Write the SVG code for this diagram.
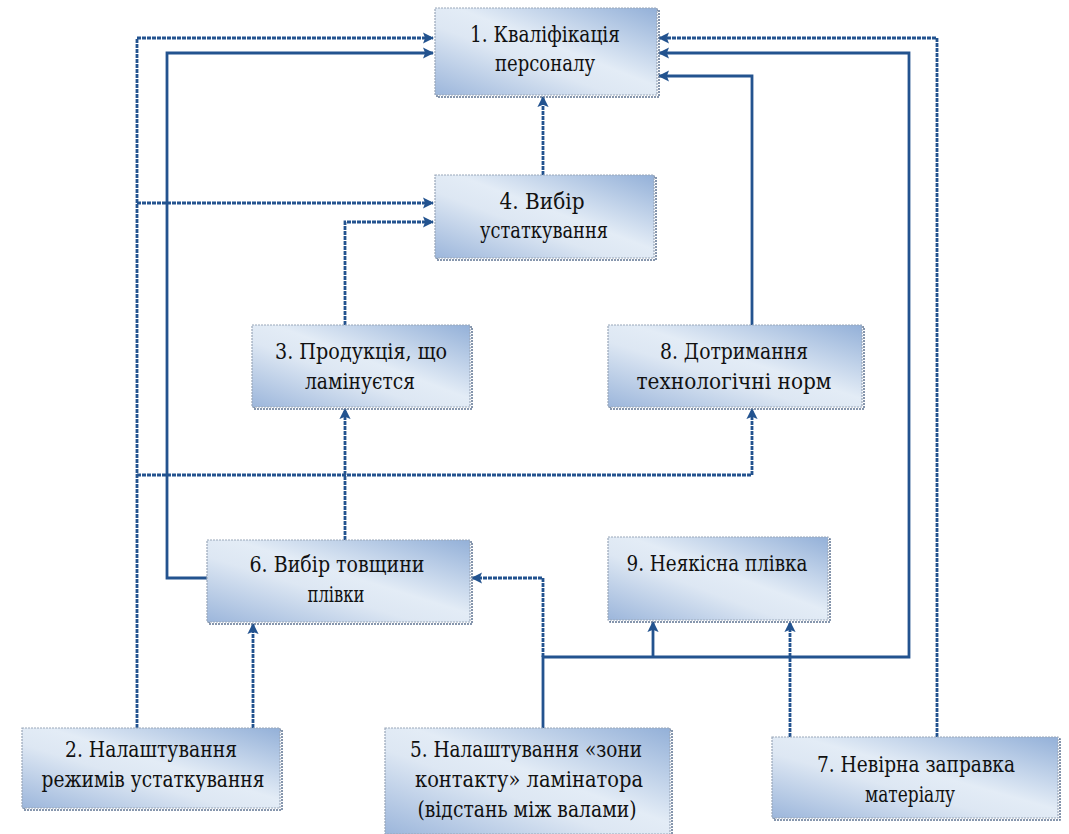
<svg xmlns="http://www.w3.org/2000/svg" width="1069" height="834" viewBox="0 0 1069 834">
  <defs>
    <linearGradient id="boxFill" x1="1" y1="0" x2="0" y2="1">
      <stop offset="0" stop-color="#93b0d8"/>
      <stop offset="0.45" stop-color="#e3ecf6"/>
      <stop offset="0.6" stop-color="#dde7f3"/>
      <stop offset="1" stop-color="#9cb6db"/>
    </linearGradient>
    <marker id="arrow" viewBox="0 0 10 10" refX="9" refY="5" markerWidth="4" markerHeight="4" orient="auto" markerUnits="strokeWidth">
      <path d="M0,0 L10,5 L0,10 L2,5 Z" fill="#23538f"/>
    </marker>
  </defs>
  <style>
    .box { fill: url(#boxFill); stroke: #9aa7ba; stroke-width: 1.2; stroke-dasharray: 2 1; }
    .shadow { fill: none; stroke: #5f7493; stroke-width: 1.5; stroke-dasharray: 2 1; }
    .label { font-size: 22px; fill: #111; text-anchor: middle; }
    .wire { fill: none; stroke: #23538f; stroke-width: 2.8; stroke-linejoin: miter; }
    .dot { stroke-dasharray: 4 1; }
    .tip { marker-end: url(#arrow); }
  </style>
  <rect width="1069" height="834" fill="#ffffff"/>

  <!-- connectors -->
  <g id="connectors">
    <!-- 2 → 1, 4, 8 via left trunk -->
    <path class="wire dot tip" d="M137,728 V38 H433"/>
    <path class="wire dot tip" d="M137,203 H433"/>
    <path class="wire dot tip" d="M137,475 H752 V409"/>
    <!-- 6 → 1 -->
    <path class="wire tip" d="M207,578 H167 V53 H433"/>
    <!-- 3 → 4 -->
    <path class="wire dot tip" d="M345,325 V222 H433"/>
    <!-- 4 → 1 -->
    <path class="wire dot tip" d="M543,175 V97"/>
    <!-- 6 → 3 -->
    <path class="wire dot tip" d="M345,540 V409"/>
    <!-- 2 → 6 -->
    <path class="wire dot tip" d="M253,728 V624"/>
    <!-- 8 → 1 -->
    <path class="wire tip" d="M752,325 V76 H659"/>
    <!-- 7 → 1 -->
    <path class="wire dot tip" d="M937,737 V38 H659"/>
    <!-- 5 → 1, 6, 9 -->
    <path class="wire tip" d="M543,728 V657 H909 V53 H659"/>
    <path class="wire dot tip" d="M543,657 V578 H472"/>
    <path class="wire tip" d="M653,657 V622"/>
    <!-- 7 → 9 -->
    <path class="wire dot tip" d="M790,737 V622"/>
  </g>

  <!-- nodes: serif labels condensed to a Times-like width -->
  <g id="nodes" font-family="'DejaVu Serif', serif">
  <g id="node1">
    <rect class="shadow" x="437" y="10" width="222" height="87"/>
    <rect class="box" x="435" y="8" width="222" height="87"/>
    <text class="label" x="545" y="42" textLength="150" lengthAdjust="spacingAndGlyphs">1. Кваліфікація</text>
    <text class="label" x="545" y="71" textLength="100" lengthAdjust="spacingAndGlyphs">персоналу</text>
  </g>
  <g id="node4">
    <rect class="shadow" x="437" y="177" width="219" height="83"/>
    <rect class="box" x="435" y="175" width="219" height="83"/>
    <text class="label" x="542" y="209" textLength="85" lengthAdjust="spacingAndGlyphs">4. Вибір</text>
    <text class="label" x="544" y="238" textLength="128" lengthAdjust="spacingAndGlyphs">устаткування</text>
  </g>
  <g id="node3">
    <rect class="shadow" x="254" y="327" width="218" height="82"/>
    <rect class="box" x="252" y="325" width="218" height="82"/>
    <text class="label" x="361" y="359" textLength="172" lengthAdjust="spacingAndGlyphs">3. Продукція, що</text>
    <text class="label" x="360" y="389" textLength="110" lengthAdjust="spacingAndGlyphs">ламінуєтся</text>
  </g>
  <g id="node8">
    <rect class="shadow" x="610" y="327" width="254" height="82"/>
    <rect class="box" x="608" y="325" width="254" height="82"/>
    <text class="label" x="734" y="359" textLength="148" lengthAdjust="spacingAndGlyphs">8. Дотримання</text>
    <text class="label" x="734" y="389" textLength="195" lengthAdjust="spacingAndGlyphs">технологічні норм</text>
  </g>
  <g id="node6">
    <rect class="shadow" x="209" y="542" width="263" height="82"/>
    <rect class="box" x="207" y="540" width="263" height="82"/>
    <text class="label" x="337" y="572" textLength="175" lengthAdjust="spacingAndGlyphs">6. Вибір товщини</text>
    <text class="label" x="336" y="602" textLength="57" lengthAdjust="spacingAndGlyphs">плівки</text>
  </g>
  <g id="node9">
    <rect class="shadow" x="610" y="539" width="220" height="83"/>
    <rect class="box" x="608" y="537" width="220" height="83"/>
    <text class="label" x="717" y="571" textLength="181" lengthAdjust="spacingAndGlyphs">9. Неякісна плівка</text>
  </g>
  <g id="node2">
    <rect class="shadow" x="24" y="730" width="258" height="80"/>
    <rect class="box" x="22" y="728" width="258" height="80"/>
    <text class="label" x="151" y="757" textLength="172" lengthAdjust="spacingAndGlyphs">2. Налаштування</text>
    <text class="label" x="153" y="787" textLength="223" lengthAdjust="spacingAndGlyphs">режимів устаткування</text>
  </g>
  <g id="node5">
    <rect class="shadow" x="387" y="730" width="285" height="106"/>
    <rect class="box" x="385" y="728" width="285" height="106"/>
    <text class="label" x="526" y="757" textLength="232" lengthAdjust="spacingAndGlyphs">5. Налаштування «зони</text>
    <text class="label" x="529" y="787" textLength="228" lengthAdjust="spacingAndGlyphs">контакту» ламінатора</text>
    <text class="label" x="527" y="817" textLength="219" lengthAdjust="spacingAndGlyphs">(відстань між валами)</text>
  </g>
  <g id="node7">
    <rect class="shadow" x="774" y="739" width="286" height="81"/>
    <rect class="box" x="772" y="737" width="286" height="81"/>
    <text class="label" x="916" y="772" textLength="198" lengthAdjust="spacingAndGlyphs">7. Невірна заправка</text>
    <text class="label" x="910" y="802" textLength="90" lengthAdjust="spacingAndGlyphs">матеріалу</text>
  </g>
  </g>
</svg>
